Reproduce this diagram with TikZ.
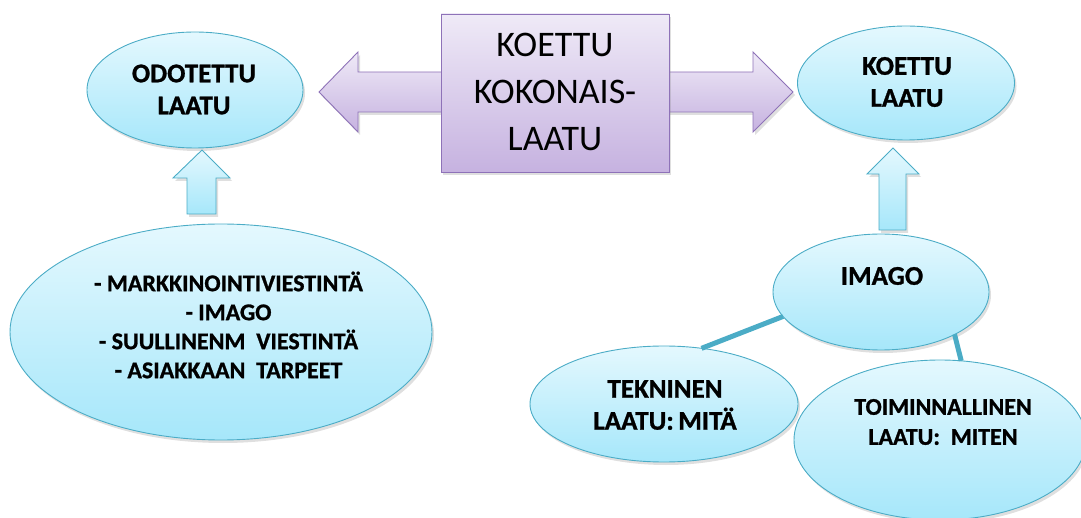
\documentclass[tikz,border=0pt]{standalone}
\usepackage{fontspec}
\setmainfont{Carlito}[BoldFont={Carlito Bold}, BoldFeatures={FakeBold=1}]
\usetikzlibrary{shapes.geometric,shadows}
\definecolor{ebord}{HTML}{4BACC6}
\definecolor{etop}{HTML}{E4F8FE}
\definecolor{ebot}{HTML}{A6E7FA}
\definecolor{pbord}{HTML}{8E72B8}
\definecolor{ptop}{HTML}{EFEAF7}
\definecolor{pbot}{HTML}{C6B2E0}
\tikzset{
  bubble/.style={ellipse, draw=ebord, line width=0.9pt, top color=etop, bottom color=ebot,
    inner sep=0pt, outer sep=0pt, drop shadow={opacity=0.25, shadow xshift=2pt, shadow yshift=-3pt}},
  btext/.style={align=center, font=\fontsize{27}{32}\selectfont\bfseries, inner sep=0pt},
  stext/.style={align=center, font=\fontsize{24}{30}\selectfont\bfseries, inner sep=0pt},
  bigtext/.style={align=center, font=\fontsize{24}{29}\selectfont\bfseries, inner sep=0pt},
  purp/.style={draw=pbord, line width=0.9pt, top color=ptop, bottom color=pbot,
    drop shadow={opacity=0.25, shadow xshift=2pt, shadow yshift=-3pt}},
  blue arrow/.style={draw=ebord, line width=0.9pt, top color=etop, bottom color=ebot, line join=miter,
    drop shadow={opacity=0.25, shadow xshift=2pt, shadow yshift=-3pt}},
  link/.style={draw=ebord, line width=5pt}
}
\begin{document}
\begin{tikzpicture}[x=1pt,y=-1pt]
\useasboundingbox (0,0) rectangle (1081,518);
% double block arrow behind the title box
\path[purp] (319,92) -- (358,52) -- (358,72) -- (753,72) -- (753,52) -- (793,92)
  -- (753,132) -- (753,112) -- (358,112) -- (358,132) -- cycle;
\node[purp, rectangle, minimum width=228pt, minimum height=158pt, inner sep=0pt] (box) at (555,93) {};
\node[align=center, font=\fontsize{36}{47}\selectfont, inner sep=0pt] (boxt) at (555,92) {KOETTU\\KOKONAIS-\\LAATU};

% ellipses
\node[bubble, minimum width=216pt, minimum height=116pt] (odo) at (195,90) {};
\node[btext] (odot) at (194,89.5) {ODOTETTU\\LAATU};

\node[bubble, minimum width=217pt, minimum height=114pt] (koe) at (906,83) {};
\node[btext] (koet) at (907,82) {KOETTU\\LAATU};

\node[bubble, minimum width=422pt, minimum height=216pt] (big) at (221,332) {};
\node[bigtext] (bigt) at (228.5,325) {- MARKKINOINTIVIESTINTÄ\\- IMAGO\\- SUULLINENM\ \ VIESTINTÄ\\- ASIAKKAAN\ \ TARPEET};

% up arrows
\path[blue arrow] (202,150) -- (230,178) -- (216,178) -- (216,214) -- (187,214) -- (187,178) -- (173,178) -- cycle;
\path[blue arrow] (893,148) -- (919,174) -- (906,174) -- (906,230) -- (879,230) -- (879,174) -- (867,174) -- cycle;

% lower bubbles and connectors
\node[bubble, minimum width=268pt, minimum height=116pt] (tek) at (664,404) {};
\node[bubble, minimum width=292pt, minimum height=160pt] (toim) at (940,440) {};
\node[bubble, minimum width=216pt, minimum height=116pt] (ima) at (881,292) {};
\draw[link] (ima.194) -- (tek.56);
\draw[link] (ima.-30) -- (toim.75);
\node[btext] (imat) at (882,276) {IMAGO};
\node[btext] (tekt) at (665,405) {TEKNINEN\\LAATU:\,MITÄ};
\node[stext] (toimt) at (943,422) {TOIMINNALLINEN\\LAATU:\ \ MITEN};
\end{tikzpicture}
\end{document}
